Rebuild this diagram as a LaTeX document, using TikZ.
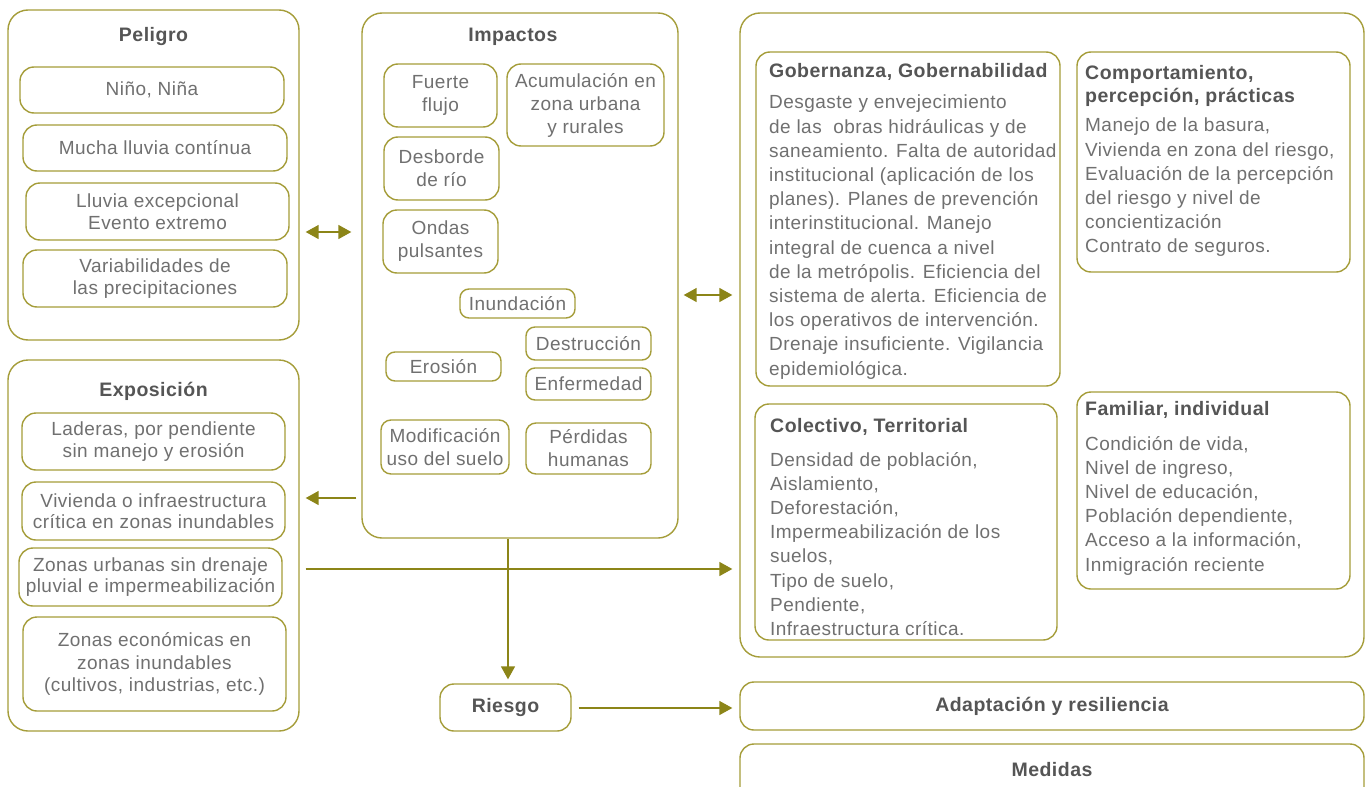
\documentclass[tikz,border=0pt]{standalone}
\usepackage{fontspec}
\setmainfont{Liberation Sans}[LetterSpace=2.5]
\usetikzlibrary{arrows.meta,calc}
\definecolor{bord}{HTML}{A59D3A}
\definecolor{arrc}{HTML}{8C8518}
\definecolor{txc}{HTML}{707070}
\definecolor{ttc}{HTML}{555555}
\tikzset{
  obox/.style={draw=bord, line width=1.4pt, rounded corners=20pt, inner sep=0pt},
  ibox/.style={draw=bord, line width=1.4pt, rounded corners=14pt, inner sep=0pt, align=center, text=txc, font=\fontsize{19}{21.5}\selectfont},
  sbox/.style={ibox, rounded corners=9pt},
  mbox/.style={ibox, font=\fontsize{19}{23}\selectfont},
  ttl/.style={text=ttc, font=\bfseries\fontsize{19.5}{23}\selectfont, inner sep=0pt, align=left},
  body/.style={text=txc, font=\fontsize{19}{24.2}\selectfont, inner sep=0pt, align=left, anchor=north west},
  arr/.style={draw=arrc, line width=1.5pt, -{Triangle[length=13pt,width=14pt]}},
  darr/.style={draw=arrc, line width=1.5pt, {Triangle[length=13pt,width=14pt]}-{Triangle[length=13pt,width=14pt]}},
  ln/.style={draw=arrc, line width=1.5pt}
}
\begin{document}
\begin{tikzpicture}[x=1pt,y=-1pt]
\useasboundingbox (0,0) rectangle (1366,787);
\clip (0,0) rectangle (1366,787);
\fill[white] (0,0) rectangle (1366,787);

% ---------- Peligro ----------
\node[obox, minimum width=291, minimum height=330] (pel) at (153.5,175) {};
\node[ttl] (pelt) at (153.5,37) {Peligro};
\node[ibox, minimum width=264, minimum height=46] (nino) at (152,90) {Niño, Niña};
\node[ibox, minimum width=264, minimum height=46] (mucha) at (155,148) {Mucha lluvia contínua};
\node[ibox, minimum width=263, minimum height=57] (lluv) at (157.5,211.5) {Lluvia excepcional\\Evento extremo};
\node[ibox, minimum width=264, minimum height=57] (varb) at (155,278.5) {Variabilidades de\\las precipitaciones};

% ---------- Exposicion ----------
\node[obox, minimum width=291, minimum height=371] (exp) at (153.5,545.5) {};
\node[ttl] (expt) at (153.5,391) {Exposición};
\node[ibox, minimum width=263, minimum height=57] (lad) at (153.5,441.5) {Laderas, por pendiente\\sin manejo y erosión};
\node[ibox, minimum width=263, minimum height=58] (viv) at (153.5,511) {Vivienda o infraestructura\\crítica en zonas inundables};
\node[ibox, minimum width=263, minimum height=58] (zur) at (150.5,577) {Zonas urbanas sin drenaje\\pluvial e impermeabilización};
\node[ibox, minimum width=263, minimum height=94, font=\fontsize{19}{22.5}\selectfont] (zec) at (154.5,664) {Zonas económicas en\\zonas inundables\\(cultivos, industrias, etc.)};

% ---------- Impactos ----------
\node[obox, minimum width=316, minimum height=525] (imp) at (520,275.5) {};
\node[ttl] (impt) at (513,37) {Impactos};
\node[mbox, minimum width=113, minimum height=63] (fue) at (440.5,95.5) {Fuerte\\flujo};
\node[mbox, minimum width=157, minimum height=82] (acu) at (585.5,105) {Acumulación en\\zona urbana\\y rurales};
\node[mbox, minimum width=115, minimum height=63] (des) at (441.5,168.5) {Desborde\\de río};
\node[mbox, minimum width=115, minimum height=63] (ond) at (440.5,241.5) {Ondas\\pulsantes};
\node[sbox, minimum width=115, minimum height=29] (inu) at (517.5,303.5) {Inundación};
\node[sbox, minimum width=125, minimum height=33] (dst) at (588.5,343.5) {Destrucción};
\node[sbox, minimum width=115, minimum height=29] (ero) at (443.5,366.5) {Erosión};
\node[sbox, minimum width=125, minimum height=32] (enf) at (588.5,384) {Enfermedad};
\node[mbox, rounded corners=10pt, minimum width=128, minimum height=54] (mod) at (445,447) {Modificación\\uso del suelo};
\node[mbox, rounded corners=10pt, minimum width=125, minimum height=51] (per) at (588.5,448.5) {Pérdidas\\humanas};

% ---------- Right block ----------
\node[obox, minimum width=624, minimum height=644] (rt) at (1052,335) {};
\node[ibox, minimum width=304, minimum height=334] (gob) at (908,219) {};
\node[ttl, anchor=west] (gobt) at (769,72) {Gobernanza, Gobernabilidad};
\node[body] (gobb) at (769,95) {Desgaste y envejecimiento\\de las \ obras hidráulicas y de\\saneamiento. Falta de autoridad\\institucional (aplicación de los\\planes). Planes de prevención\\interinstitucional. Manejo\\integral de cuenca a nivel\\de la metrópolis. Eficiencia del\\sistema de alerta. Eficiencia de\\los operativos de intervención.\\Drenaje insuficiente. Vigilancia\\epidemiológica.};

\node[ibox, minimum width=273, minimum height=220] (comp) at (1213.5,162) {};
\node[ttl, anchor=north west] (compt) at (1085,65) {Comportamiento,\\percepción, prácticas};
\node[body] (compb) at (1085,118) {Manejo de la basura,\\Vivienda en zona del riesgo,\\Evaluación de la percepción\\del riesgo y nivel de\\concientización\\Contrato de seguros.};

\node[ibox, minimum width=302, minimum height=236] (col) at (906,522) {};
\node[ttl, anchor=west] (colt) at (770,427) {Colectivo, Territorial};
\node[body] (colb) at (770,452) {Densidad de población,\\Aislamiento,\\Deforestación,\\Impermeabilización de los\\suelos,\\Tipo de suelo,\\Pendiente,\\Infraestructura crítica.};

\node[ibox, minimum width=273, minimum height=197] (fam) at (1213.5,490.5) {};
\node[ttl, anchor=west] (famt) at (1085,410) {Familiar, individual};
\node[body] (famb) at (1085,436) {Condición de vida,\\Nivel de ingreso,\\Nivel de educación,\\Población dependiente,\\Acceso a la información,\\Inmigración reciente};

% ---------- Bottom ----------
\node[ibox, minimum width=131, minimum height=47] (ries) at (505.5,707.5) {};
\node[ttl] (riest) at (505.5,707.5) {Riesgo};
\node[ibox, minimum width=624, minimum height=48] (adap) at (1052,706) {};
\node[ttl] (adapt) at (1052,706) {Adaptación y resiliencia};
\node[ibox, minimum width=624, minimum height=60] (med) at (1052,774) {};
\node[ttl] (medt) at (1052,770) {Medidas};

% ---------- Connectors ----------
\draw[darr] ($(pel.east)+(6,57)$) -- ($(imp.west)+(-10,-43.5)$);
\draw[darr] ($(imp.east)+(5,19.5)$) -- ($(rt.west)+(-7,-40)$);
\draw[arr] ($(imp.west)+(-5,222.5)$) -- ($(exp.east)+(6,-47.5)$);
\draw[arr] ($(exp.east)+(6,23.5)$) -- ($(rt.west)+(-7,234)$);
\draw[arr] ($(imp.south)+(-12,0)$) -- ($(ries.north)+(2.5,-4)$);
\draw[arr] ($(ries.east)+(7,0.5)$) -- ($(ries.east -| adap.west)+(-7,0.5)$);
\end{tikzpicture}
\end{document}
